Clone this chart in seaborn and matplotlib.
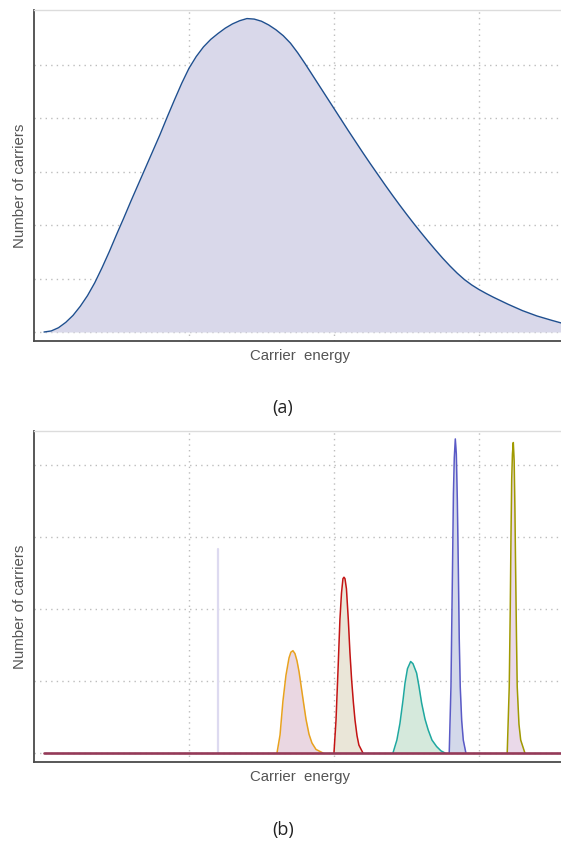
import matplotlib
matplotlib.use("Agg")
import matplotlib.pyplot as plt
import seaborn as sns
import pandas as pd

# ---------------- data (a) ----------------
energy_a = [0.00, 0.05, 0.10, 0.15, 0.20, 0.25, 0.30, 0.35, 0.40, 0.45,
            0.50, 0.55, 0.60, 0.65, 0.70, 0.75, 0.80, 0.85, 0.90, 0.95,
            1.00, 1.05, 1.10, 1.15, 1.20, 1.25, 1.30, 1.35, 1.40, 1.45,
            1.50, 1.55, 1.60, 1.65, 1.70, 1.75, 1.80, 1.85, 1.90, 1.95,
            2.00, 2.05, 2.10, 2.15, 2.20, 2.25, 2.30, 2.35, 2.40, 2.45,
            2.50, 2.55, 2.60, 2.65, 2.70, 2.75, 2.80, 2.85, 2.90, 2.95,
            3.00, 3.05, 3.10, 3.15, 3.20, 3.25, 3.30, 3.35, 3.40, 3.45,
            3.50, 3.566]
carriers_a = [0.00, 0.02, 0.08, 0.18, 0.31, 0.48, 0.68, 0.92, 1.20, 1.50,
              1.82, 2.13, 2.45, 2.76, 3.07, 3.38, 3.69, 4.02, 4.34, 4.65,
              4.93, 5.15, 5.33, 5.47, 5.58, 5.68, 5.76, 5.82, 5.86, 5.85,
              5.81, 5.74, 5.65, 5.54, 5.40, 5.22, 5.02, 4.81, 4.60, 4.39,
              4.18, 3.97, 3.76, 3.555, 3.35, 3.15, 2.955, 2.76, 2.57, 2.385,
              2.205, 2.03, 1.86, 1.695, 1.535, 1.38, 1.235, 1.10, 0.98, 0.88,
              0.795, 0.72, 0.65, 0.585, 0.52, 0.46, 0.40, 0.35, 0.30, 0.26,
              0.22, 0.17]

# ---------------- data (b) ----------------
orange_e = [1.607, 1.628, 1.648, 1.669, 1.690, 1.703, 1.717, 1.731, 1.745, 1.759,
            1.772, 1.790, 1.807, 1.828, 1.848, 1.876, 1.924]
orange_n = [0.0, 0.25, 0.72, 1.08, 1.32, 1.40, 1.42, 1.38, 1.28, 1.13,
            0.95, 0.70, 0.47, 0.26, 0.14, 0.05, 0.0]

red_e = [2.000, 2.014, 2.028, 2.041, 2.052, 2.062, 2.069, 2.076, 2.086, 2.099,
         2.110, 2.122, 2.134, 2.145, 2.159, 2.172, 2.200]
red_n = [0.0, 0.45, 1.15, 1.85, 2.22, 2.42, 2.44, 2.42, 2.28, 1.85,
         1.40, 1.01, 0.70, 0.46, 0.24, 0.11, 0.0]

teal_e = [2.407, 2.434, 2.455, 2.476, 2.490, 2.507, 2.529, 2.545, 2.570, 2.586,
          2.605, 2.628, 2.650, 2.676, 2.708, 2.738, 2.766]
teal_n = [0.0, 0.18, 0.41, 0.73, 0.97, 1.17, 1.27, 1.24, 1.11, 0.93,
          0.69, 0.47, 0.32, 0.18, 0.09, 0.03, 0.0]

blue_e = [2.795, 2.807, 2.814, 2.819, 2.824, 2.830, 2.837, 2.844, 2.851, 2.858,
          2.864, 2.871, 2.881, 2.892, 2.910]
blue_n = [0.0, 0.92, 2.0, 2.77, 3.6, 4.1, 4.36, 4.15, 3.5, 2.54,
          1.6, 0.92, 0.45, 0.18, 0.0]

olive_e = [3.195, 3.209, 3.216, 3.221, 3.226, 3.231, 3.237, 3.243, 3.248, 3.253,
           3.259, 3.264, 3.276, 3.288, 3.317]
olive_n = [0.0, 0.92, 2.0, 3.0, 3.8, 4.15, 4.31, 4.05, 3.4, 2.54,
           1.6, 0.92, 0.40, 0.18, 0.0]

spike_e = [1.2, 1.2]
spike_n = [0.0, 2.83]

baseline_e = [0.0, 3.566]
baseline_n = [0.0, 0.0]

# ---------------- style ----------------
sns.set_theme(style="white")
plt.rcParams['font.family'] = ['Liberation Sans', 'DejaVu Sans']

fig = plt.figure(figsize=(5.61, 8.41), dpi=100)
W, H = 561, 841

def make_ax(top_px, bot_px):
    return fig.add_axes([34 / W, 1 - bot_px / H, (561 - 34) / W, (bot_px - top_px) / H])

ax1 = make_ax(10, 341)
ax2 = make_ax(431, 762)

XLIM = (-0.069, 3.566)

def style(ax, ylim, yticks):
    ax.set_xlim(*XLIM)
    ax.set_ylim(*ylim)
    ax.set_xticks([1, 2, 3])
    ax.set_yticks(yticks)
    ax.set_xticklabels([])
    ax.set_yticklabels([])
    ax.tick_params(length=0)
    ax.grid(True, linestyle=(0, (1, 3)), color="#BDBDBD", linewidth=1.0)
    ax.set_axisbelow(True)
    for s in ("left", "bottom"):
        ax.spines[s].set_color("#4A4A4A")
        ax.spines[s].set_linewidth(1.3)
    ax.spines["top"].set_color("#DCDCDC")
    ax.spines["top"].set_linewidth(1.0)
    ax.spines["right"].set_visible(False)
    ax.set_xlabel("Carrier  energy", fontsize=10.8, color="#555555")
    ax.set_ylabel("Number of carriers", fontsize=10.8, color="#555555")
    ax.xaxis.set_label_coords(0.505, -0.025)
    ax.yaxis.set_label_coords(-0.013, 0.47)

# ---------------- panel (a) ----------------
df_a = pd.DataFrame({"energy": energy_a, "carriers": carriers_a})
ax1.fill_between(df_a["energy"], 0, df_a["carriers"], color="#D9D8EA", linewidth=0, zorder=2)
sns.lineplot(data=df_a, x="energy", y="carriers", ax=ax1, color="#1F4F8F",
             linewidth=1.0, estimator=None, sort=False, zorder=3)
style(ax1, (-0.168, 6.02), [0, 1, 2, 3, 4, 5])

# ---------------- panel (b) ----------------
peaks = [
    (orange_e, orange_n, "#E8A21E", "#EAD7E2"),
    (red_e, red_n, "#C41414", "#EAE6D8"),
    (teal_e, teal_n, "#1FA8A0", "#D5E9DC"),
    (blue_e, blue_n, "#5A5AC6", "#D3D8EA"),
    (olive_e, olive_n, "#A09A00", "#EAD9E9"),
]
for e, n, lc, fc in peaks:
    ax2.fill_between(e, 0, n, color=fc, linewidth=0, zorder=2)
    sns.lineplot(x=e, y=n, ax=ax2, color=lc, linewidth=1.1, estimator=None,
                 sort=False, zorder=3)

sns.lineplot(x=spike_e, y=spike_n, ax=ax2, color="#DDDAF0", linewidth=1.6,
             estimator=None, sort=False, zorder=3)
sns.lineplot(x=baseline_e, y=baseline_n, ax=ax2, color="#943A58", linewidth=1.9,
             estimator=None, sort=False, zorder=4)
style(ax2, (-0.125, 4.47), [0, 1, 2, 3, 4])

# captions
fig.text(283 / W, 1 - 408 / H, "(a)", ha="center", va="center", fontsize=13,
         color="#222222", family=["Open Sans", "DejaVu Sans"])
fig.text(283 / W, 1 - 830 / H, "(b)", ha="center", va="center", fontsize=13,
         color="#222222", family=["Open Sans", "DejaVu Sans"])

fig.savefig("out.png", dpi=100)
